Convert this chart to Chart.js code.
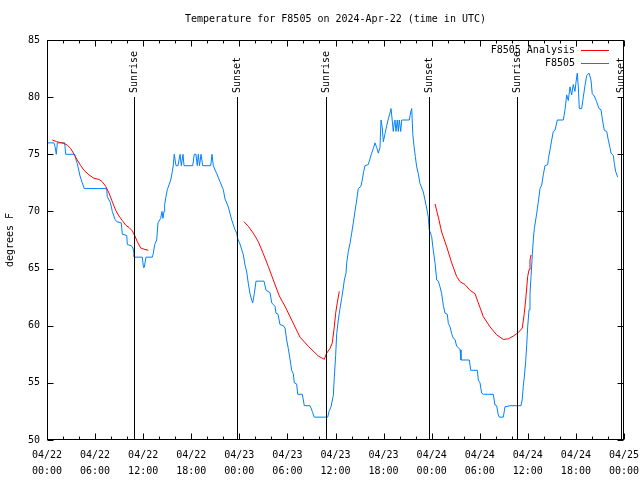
<!DOCTYPE html>
<html>
<head>
<meta charset="utf-8">
<script src="https://cdn.jsdelivr.net/npm/chart.js@4.4.1/dist/chart.umd.min.js"></script>
<style>
html,body{margin:0;padding:0;background:#fff;}
#wrap{width:640px;height:480px;}
</style>
</head>
<body>
<div id="wrap"><canvas id="c" width="640" height="480"></canvas></div>
<script>
// ---- DATA (hours since 2024-04-22 00:00 UTC, degrees F) ----
const chartTitle = 'Temperature for F8505 on 2024-Apr-22 (time in UTC)';
const yAxisTitle = 'degrees F';
const tickDates = ['04/22','04/22','04/22','04/22','04/23','04/23','04/23','04/23','04/24','04/24','04/24','04/24','04/25'];
const tickTimes = ['00:00','06:00','12:00','18:00','00:00','06:00','12:00','18:00','00:00','06:00','12:00','18:00','00:00'];

const obsLabel = 'F8505';
const obsHours = [0.00,0.87,1.00,1.16,1.29,2.21,2.33,3.46,3.58,3.78,4.12,4.40,4.65,7.45,7.52,7.90,8.15,8.49,8.70,9.27,9.40,9.95,10.02,10.52,10.73,10.86,10.89,11.89,12.04,12.14,12.35,13.14,13.26,13.44,13.69,13.85,14.19,14.35,14.47,14.60,14.68,14.85,15.01,15.44,15.64,15.76,15.88,16.10,16.35,16.60,16.76,16.97,17.10,18.18,18.38,18.59,18.75,18.88,19.03,19.22,19.43,20.43,20.59,20.75,21.18,21.59,22.00,22.21,22.62,23.05,23.46,23.67,23.80,24.08,24.50,24.71,24.92,25.12,25.33,25.54,25.67,25.87,26.08,27.08,27.33,27.83,28.04,28.45,28.57,28.83,29.07,29.49,29.70,29.91,30.11,30.32,30.53,30.73,30.86,31.16,31.28,31.86,32.11,32.82,33.11,33.35,35.03,35.19,35.44,35.73,35.85,36.02,36.15,36.35,36.56,36.77,36.97,37.10,37.31,37.40,37.60,37.81,38.02,38.22,38.43,38.65,38.84,39.18,39.34,39.52,39.68,40.09,40.30,40.51,40.72,40.93,41.14,41.34,41.55,41.68,41.84,41.97,42.18,42.39,42.59,42.80,42.93,43.09,43.21,43.34,43.42,43.55,43.71,43.84,43.96,44.14,44.26,44.39,45.21,45.39,45.51,45.64,45.80,45.96,46.13,46.33,46.54,46.96,47.17,47.37,47.58,47.70,48.00,48.20,48.42,48.63,48.83,49.04,49.25,49.45,49.66,49.95,50.08,50.29,50.50,50.70,50.91,51.12,51.32,51.54,51.66,52.70,52.87,53.70,53.82,54.03,54.24,54.44,55.69,55.90,56.11,56.31,56.44,56.94,57.15,57.77,59.15,59.31,59.43,59.56,59.73,59.86,59.98,60.15,60.27,60.40,60.56,60.68,60.81,60.98,61.10,61.31,61.52,61.73,61.93,62.14,62.48,62.56,62.77,62.98,63.18,63.39,63.68,64.43,64.64,64.85,65.05,65.26,65.47,65.67,65.88,66.01,66.17,66.30,66.42,66.72,66.92,67.13,67.35,67.64,67.88,68.04,68.29,68.59,68.88,69.13,69.29,69.54,69.84,70.04,70.25,70.38,70.67,70.79,70.96,71.21];
const obsTemps = [76,76,75.7,75,76,76,75,75,74.6,74.2,73.1,72.5,72,72,71.3,70.8,70,69.3,69.1,69,68,67.9,67.1,67,66.8,66.3,66,66,65.1,65.1,66,66,66.3,67.1,67.5,69,69.4,70,69.4,70,70.6,71.3,71.9,72.75,73.5,74.06,75,74,74,75,74,75,74,74,75,75,74,75,74,75,74,74,75,74,73.3,72.6,71.9,71.1,70.4,69.25,68.4,68.1,67.6,67.15,66.2,65.3,64.7,63.7,62.8,62.25,62,62.8,63.9,63.9,63.1,62.9,62,61.7,61.1,61,60.1,60,59.8,58.75,58,57.1,56.1,55.8,55,54.9,54,54,53,53,52.5,52,52,52.5,52.9,53.9,55.5,57.4,59.3,60.5,61.5,62.4,63.3,64,64.6,65.5,66.5,67.2,68.1,69,70,71,72,72.2,72.75,73.5,74,74.1,74.6,75.1,75.5,76,75.6,75.1,75.6,78,77.3,76.1,76.8,77.5,78.1,78.6,79,77.9,77,77.8,78,77,78,77,78,77,78,78,78,78.7,79,76.8,75.7,74.8,73.9,73.3,72.45,71.7,71,70.3,69.5,68.4,67.8,66.6,65.5,64,63.9,63.4,62.8,61.8,61.1,61,60.2,59.9,59.3,58.9,58.8,58.2,58.1,57.9,57,57,56.1,56.1,55.25,55,54.1,54,54,53.06,53,52.2,52,52,52.9,53,53,53.6,54.7,55.5,56.85,58.3,59.9,61.4,62.8,64.3,66.2,67.5,68.5,69.25,69.8,70.85,72,72.3,73.2,74,74.1,74.6,75.4,76.25,77,77.1,78,78,78.9,80.2,79.7,80.9,80.2,81.1,80.5,81.3,82.1,80.9,79,79,80,81,81.9,82.1,81.5,80.3,80.1,79.6,79,78.9,78.1,77.1,77,76.25,75.6,75.1,74.9,74.2,73.5,73];

const anaLabel = 'F8505 Analysis';
const anaHours = [0.66,1.21,2.12,2.53,2.96,3.37,3.78,4.21,4.62,5.24,5.86,6.49,6.90,7.32,7.74,8.15,8.57,8.98,9.40,9.82,10.23,10.64,10.94,11.27,11.69,12.10,12.64,
  18.0,
  24.58,25.12,25.74,26.37,26.99,27.61,28.24,28.99,29.70,30.53,31.57,32.61,33.85,34.60,34.90,35.31,35.60,35.85,36.02,36.22,36.47,
  42.0,
  48.42,48.83,49.25,49.88,50.50,51.12,51.54,52.16,52.78,53.41,53.82,54.44,55.28,56.11,56.94,57.56,58.20,58.81,59.31,59.56,59.73,59.98,60.15,60.27,60.40];
const anaTemps = [76.25,76.1,75.95,75.8,75.5,75,74.5,74,73.6,73.2,72.9,72.8,72.6,72.2,71.6,70.85,70.1,69.6,69.2,68.8,68.6,68.3,67.9,67.35,66.8,66.7,66.6,
  null,
  69.1,68.7,68.1,67.35,66.3,65.2,64.0,62.6,61.7,60.5,59.0,58.2,57.35,57.06,57.6,58.0,58.5,59.9,61.1,62.0,63.0,
  null,
  70.65,69.5,68.2,66.9,65.5,64.3,63.85,63.6,63.1,62.8,62.0,60.8,59.9,59.2,58.8,58.85,59.1,59.4,59.8,61.1,62.25,64.3,64.9,65.75,66.2];

const eventHours = [10.9, 23.75, 34.86, 47.71, 58.69, 71.62];
const eventLabels = ['Sunrise','Sunset','Sunrise','Sunset','Sunrise','Sunset'];
const eventTopTemp = 80;

// ---- CHART ----
const FONT = '"DejaVu Sans Mono", "Liberation Mono", monospace';
const toPoints = (hs, ts) => hs.map((h, i) => ({x: h, y: ts[i]}));

const overlay = {
  id: 'overlay',
  afterDatasetsDraw(chart) {
    const {ctx, chartArea: a, scales: {x, y}} = chart;
    ctx.save();
    ctx.strokeStyle = '#000';
    ctx.fillStyle = '#000';
    ctx.lineWidth = 1;
    ctx.font = '10px ' + FONT;
    // event lines + labels
    const top = Math.round(y.getPixelForValue(eventTopTemp));
    eventHours.forEach((h, i) => {
      const px = Math.round(x.getPixelForValue(h)) + 0.5;
      ctx.beginPath(); ctx.moveTo(px, top); ctx.lineTo(px, a.bottom); ctx.stroke();
      ctx.save();
      ctx.translate(px, top - 4);
      ctx.rotate(-Math.PI / 2);
      ctx.textAlign = 'left'; ctx.textBaseline = 'middle';
      ctx.fillText(eventLabels[i], 0, 0);
      ctx.restore();
    });
    // frame
    const L = Math.round(a.left) + 0.5, R = Math.round(a.right) - 0.5;
    const T = Math.round(a.top) + 0.5, B = Math.round(a.bottom) - 0.5;
    ctx.strokeRect(L, T, R - L, B - T);
    // x ticks (major 6h, minor 2h), top and bottom, inward
    ctx.beginPath();
    for (let h = 0; h <= 72; h += 2) {
      const px = Math.round(x.getPixelForValue(h)) + 0.5;
      const len = (h % 6 === 0) ? 6 : 3;
      ctx.moveTo(px, B); ctx.lineTo(px, B - len);
      ctx.moveTo(px, T); ctx.lineTo(px, T + len);
    }
    // y ticks left and right, inward
    for (let v = 50; v <= 85; v += 5) {
      const py = Math.round(y.getPixelForValue(v)) + 0.5;
      ctx.moveTo(L, py); ctx.lineTo(L + 6, py);
      ctx.moveTo(R, py); ctx.lineTo(R - 6, py);
    }
    ctx.stroke();
    // legend (inside, top right)
    chart.data.datasets.forEach((ds, i) => {
      const ly = Math.round(a.top + 10 + i * 13) + 0.5;
      ctx.fillStyle = '#000';
      ctx.textAlign = 'right'; ctx.textBaseline = 'middle';
      ctx.fillText(ds.label, a.right - 49, ly);
      ctx.strokeStyle = ds.borderColor;
      ctx.beginPath(); ctx.moveTo(a.right - 43, ly); ctx.lineTo(a.right - 15, ly); ctx.stroke();
    });
    // title
    ctx.fillStyle = '#000';
    ctx.textAlign = 'center'; ctx.textBaseline = 'middle';
    ctx.fillText(chartTitle, (a.left + a.right) / 2, 19);
    ctx.restore();
  }
};

new Chart(document.getElementById('c'), {
  type: 'line',
  data: {
    datasets: [
      {label: anaLabel, data: toPoints(anaHours, anaTemps), borderColor: '#ff0000', borderWidth: 1, pointRadius: 0, tension: 0, spanGaps: false},
      {label: obsLabel, data: toPoints(obsHours, obsTemps), borderColor: '#0080ff', borderWidth: 1, pointRadius: 0, tension: 0}
    ]
  },
  options: {
    responsive: false,
    animation: false,
    devicePixelRatio: 1,
    layout: {padding: {top: 40, right: 16, left: 0, bottom: 0}},
    plugins: {legend: {display: false}, title: {display: false}, tooltip: {enabled: false}},
    scales: {
      x: {
        type: 'linear', min: 0, max: 72,
        grid: {display: false, drawTicks: false},
        border: {display: false},
        ticks: {
          stepSize: 6, autoSkip: false, maxRotation: 0, padding: 7, color: '#000',
          font: {family: FONT, size: 10, lineHeight: 1.6},
          callback: (v, i) => [tickDates[i], tickTimes[i]]
        },
        afterFit: s => { s.height = 40; s.paddingLeft = 0; s.paddingRight = 0; }
      },
      y: {
        min: 50, max: 85,
        grid: {display: false, drawTicks: false},
        border: {display: false},
        ticks: {stepSize: 5, padding: 7, color: '#000', font: {family: FONT, size: 10}},
        title: {display: true, text: yAxisTitle, color: '#000', font: {family: FONT, size: 10}, padding: {top: 4, bottom: 0}},
        afterFit: s => { s.width = 47; s.paddingTop = 0; s.paddingBottom = 0; }
      }
    }
  },
  plugins: [overlay]
});
</script>
</body>
</html>
